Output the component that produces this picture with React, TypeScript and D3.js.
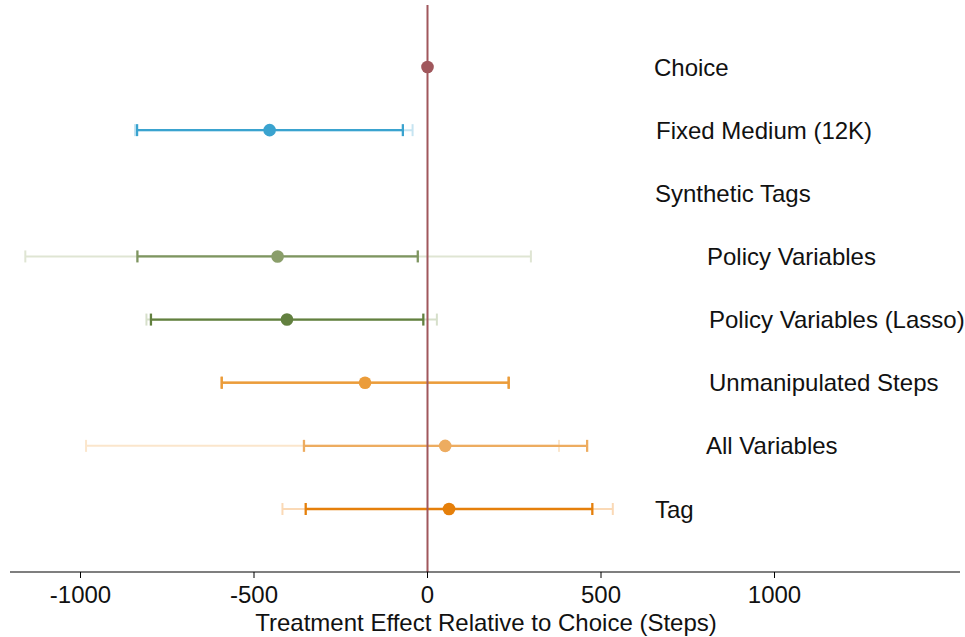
import React from "react";
import * as d3 from "d3";

// Treatment rows, top to bottom
const labels = [
  "Choice",
  "Fixed Medium (12K)",
  "Synthetic Tags",
  "Policy Variables",
  "Policy Variables (Lasso)",
  "Unmanipulated Steps",
  "All Variables",
  "Tag",
];
const labelIndent = [0, 2, 1, 53, 55, 55, 52, 1];

// Point estimates (null = not estimated)
const estimates: (number | null)[] = [0, -455, null, -432, -405, -180, 51, 62];
// Inner confidence interval
const innerLow: (number | null)[] = [null, -837, null, -836, -797, -593, -356, -351];
const innerHigh: (number | null)[] = [null, -71, null, -28, -12, 234, 460, 475];
// Outer (wider) confidence interval
const outerLow: (number | null)[] = [null, -843, null, -1159, -810, -593, -984, -418];
const outerHigh: (number | null)[] = [null, -43, null, 298, 27, 234, 379, 534];

const dotColors = ["#a0575c", "#3aa3cf", "#888", "#8a9e6a", "#62803f", "#eb9c3a", "#edac60", "#e57f0a"];
const innerColors = ["#a0575c", "#3aa3cf", "#888", "#7e9560", "#62803f", "#eb9c3a", "#edac60", "#e57f0a"];
const outerColors = ["#a0575c", "#c6e4f1", "#ccc", "#dfe5d3", "#d6dfca", "#eb9c3a", "#fbe6cc", "#fad9b6"];

const xTicks = [-1000, -500, 0, 500, 1000];

export default function App() {
  const W = 965;
  const H = 637;
  const x = d3.scaleLinear().domain([0, 1000]).range([427.5, 774.5]);
  const y = d3.scalePoint<number>().domain(d3.range(labels.length)).range([67, 509]);
  const axisY = 572;
  const font = "'Liberation Sans', Arial, sans-serif";
  const cap = 6;

  return (
    <svg
      width={W}
      height={H}
      style={{ position: "absolute", left: 0, top: 0, background: "#fff" }}
      fontFamily={font}
    >
      {/* confidence intervals */}
      {labels.map((_, i) => {
        const yy = y(i)!;
        const parts: React.ReactNode[] = [];
        const ol = outerLow[i], oh = outerHigh[i];
        if (ol != null && oh != null) {
          parts.push(
            <g key="o" stroke={outerColors[i]} strokeWidth={2}>
              <line x1={x(ol)} x2={x(oh)} y1={yy} y2={yy} />
              <line x1={x(ol)} x2={x(ol)} y1={yy - cap} y2={yy + cap} />
              <line x1={x(oh)} x2={x(oh)} y1={yy - cap} y2={yy + cap} />
            </g>
          );
        }
        const il = innerLow[i], ih = innerHigh[i];
        if (il != null && ih != null) {
          parts.push(
            <g key="i" stroke={innerColors[i]} strokeWidth={2.3}>
              <line x1={x(il)} x2={x(ih)} y1={yy} y2={yy} />
              <line x1={x(il)} x2={x(il)} y1={yy - cap} y2={yy + cap} />
              <line x1={x(ih)} x2={x(ih)} y1={yy - cap} y2={yy + cap} />
            </g>
          );
        }
        return <g key={i}>{parts}</g>;
      })}

      {/* zero reference line */}
      <line x1={x(0)} x2={x(0)} y1={5} y2={axisY} stroke="#a0575c" strokeWidth={2} />

      {/* point estimates */}
      {labels.map((_, i) =>
        estimates[i] == null ? null : (
          <circle key={i} cx={x(estimates[i]!)} cy={y(i)!} r={6.3} fill={dotColors[i]} />
        )
      )}

      {/* row labels */}
      {labels.map((t, i) => (
        <text key={t} x={654 + labelIndent[i]} y={y(i)!} dy="0.36em" fontSize={24} fill="#111">
          {t}
        </text>
      ))}

      {/* x axis */}
      <line x1={10} x2={960} y1={axisY} y2={axisY} stroke="#000" strokeWidth={1.2} />
      {xTicks.map((t) => (
        <g key={t}>
          <line x1={x(t)} x2={x(t)} y1={axisY} y2={axisY + 6} stroke="#000" strokeWidth={1} />
          <text x={x(t)} y={603} textAnchor="middle" fontSize={24} fill="#111">
            {t}
          </text>
        </g>
      ))}
      <text x={486} y={631} textAnchor="middle" fontSize={24} fill="#111">
        Treatment Effect Relative to Choice (Steps)
      </text>
    </svg>
  );
}
